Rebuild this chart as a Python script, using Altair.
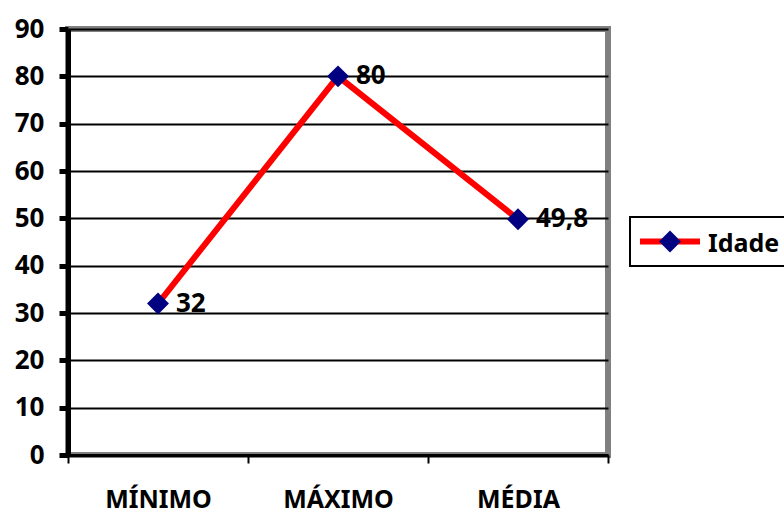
import altair as alt
import pandas as pd

categories = ["MÍNIMO", "MÁXIMO", "MÉDIA"]
values = [32, 80, 49.8]
value_labels = ["32", "80", "49,8"]
series_name = "Idade"
y_ticks = [0, 10, 20, 30, 40, 50, 60, 70, 80, 90]

df = pd.DataFrame({"cat": categories, "val": values, "lab": value_labels})

FONT = "Noto Sans"

x_enc = alt.X(
    "cat:N",
    sort=categories,
    scale=alt.Scale(type="band", paddingInner=0, paddingOuter=0),
    axis=alt.Axis(
        title=None,
        labelAngle=0,
        labelFont=FONT,
        labelFontWeight="bold",
        labelFontSize=25,
        labelColor="black",
        labelPadding=24,
        tickBand="extent",
        ticks=True,
        tickSize=8,
        tickWidth=2,
        tickColor="black",
        domainColor="black",
        domainWidth=3,
        grid=False,
    ),
)
y_enc = alt.Y(
    "val:Q",
    scale=alt.Scale(domain=[0, 90], nice=False),
    axis=alt.Axis(
        title=None,
        values=y_ticks,
        labelFont=FONT,
        labelFontWeight="bold",
        labelFontSize=26,
        labelColor="black",
        labelPadding=15,
        tickSize=9,
        tickWidth=5,
        tickColor="black",
        domainColor="black",
        domainWidth=5,
        grid=True,
        gridColor="black",
        gridWidth=2,
    ),
)

base = alt.Chart(df).encode(x=x_enc, y=y_enc)

line = base.mark_line(color="#ff0000", strokeWidth=6)
points = base.mark_point(shape="diamond", filled=True, fill="#000080", size=480, opacity=1)
labels = base.mark_text(
    align="left", baseline="middle", dx=18, font=FONT, fontWeight="bold", fontSize=26, color="black"
).encode(text="lab:N")

leg_df = pd.DataFrame({"name": [series_name]})
leg_box = alt.Chart(leg_df).mark_rect(fill="white", stroke="black", strokeWidth=2).encode(
    x=alt.value(562), x2=alt.value(724), y=alt.value(188), y2=alt.value(237)
)
leg_line = alt.Chart(leg_df).mark_rule(color="#ff0000", strokeWidth=6).encode(
    x=alt.value(572), x2=alt.value(632), y=alt.value(212.5)
)
leg_pt = alt.Chart(leg_df).mark_point(shape="diamond", filled=True, fill="#000080", size=480, opacity=1).encode(
    x=alt.value(602), y=alt.value(212.5)
)
leg_txt = alt.Chart(leg_df).mark_text(
    align="left", baseline="middle", font=FONT, fontWeight="bold", fontSize=25, color="black"
).encode(x=alt.value(640), y=alt.value(215), text="name:N")

chart = alt.layer(line, points, labels, leg_box, leg_line, leg_pt, leg_txt).properties(
    width=540,
    height=426,
    autosize=alt.AutoSizeParams(type="none"),
    padding={"left": 68, "top": 29, "right": 176, "bottom": 58},
    background="white",
).configure_view(stroke="#808080", strokeWidth=6)

chart.save("out.html", embed_options={"renderer": "svg", "actions": False})
